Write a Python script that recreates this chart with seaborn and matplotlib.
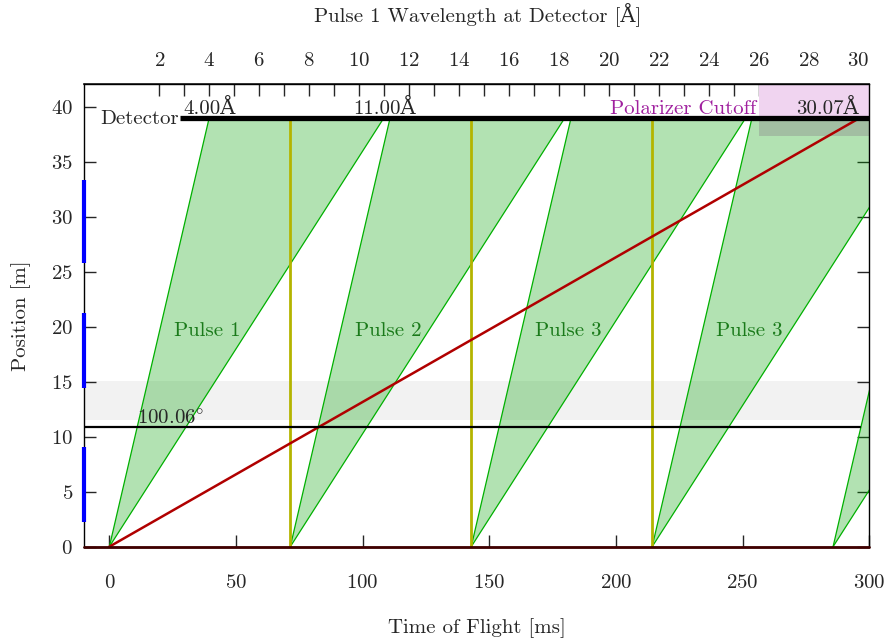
import matplotlib.pyplot as plt
import seaborn as sns
import numpy as np
import pandas as pd

# values
detector_pos = 39.0                                   # m
pulse_starts = [0.0, 71.43, 142.86, 214.29, 285.71]   # ms
pulse_names = ["Pulse 1", "Pulse 2", "Pulse 3", "Pulse 3"]
fast_wl = 4.00        # Angstrom
slow_wl = 11.00
max_wl = 30.07
cutoff_wl = 26.0
chopper_pos = 10.9    # m
chopper_label = r"100.06$^{\circ}$"
band_lo, band_hi = 11.5, 15.1
blue_segments = [(2.2, 9.05), (14.4, 21.2), (25.8, 33.3)]
time_ticks = [0, 50, 100, 150, 200, 250, 300]
pos_ticks = [0, 5, 10, 15, 20, 25, 30, 35, 40]
wl_major = list(range(2, 31, 2))
wl_minor = list(range(3, 30, 2))

H_OVER_M = 3.956  # Angstrom * m / ms


def wl_to_t(wl):
    return np.asarray(wl) * detector_pos / H_OVER_M


def t_to_wl(t):
    return np.asarray(t) * H_OVER_M / detector_pos


sns.set_theme(style="ticks")
plt.rcParams['font.family'] = ['cmr10', 'DejaVu Serif']
plt.rcParams['mathtext.fontset'] = 'cm'
plt.rcParams['axes.formatter.use_mathtext'] = True
plt.rcParams['font.size'] = 15
plt.rcParams['xtick.labelsize'] = 15
plt.rcParams['ytick.labelsize'] = 15
plt.rcParams['axes.labelsize'] = 15

fig = plt.figure(figsize=(8.9, 6.44), dpi=100)
ax = fig.add_axes([0.0944, 0.1511, 0.8823, 0.7185])

xmin, xmax = -10, 300
ymax = 42.06

# grey band
ax.axhspan(band_lo, band_hi, color="#f2f2f2", zorder=0.5, lw=0)

# pulses
t_fast = wl_to_t(fast_wl)
t_slow = wl_to_t(slow_wl)
for t0 in pulse_starts:
    xs = [t0, t0 + t_fast, t0 + t_slow]
    ys = [0, detector_pos, detector_pos]
    ax.fill(xs, ys, color="#00a000", alpha=0.3, lw=0, zorder=1)
    edges = pd.DataFrame({"t": [t0, t0 + t_fast], "y": [0, detector_pos]})
    sns.lineplot(data=edges, x="t", y="y", ax=ax, color="#00b000", lw=0.9, zorder=2)
    edges = pd.DataFrame({"t": [t0, t0 + t_slow], "y": [0, detector_pos]})
    sns.lineplot(data=edges, x="t", y="y", ax=ax, color="#00b000", lw=0.9, zorder=2)

for t0, name in zip(pulse_starts, pulse_names):
    ax.text(t0 + 38.5, 19.6, name, color="#1a7a1a", ha="center", va="center", zorder=6)

# frame overlap lines
ax.vlines(pulse_starts[1:4], 0, detector_pos, color="#b4b400", lw=2, zorder=2.5)

# slowest neutron
slow = pd.DataFrame({"t": [0, wl_to_t(max_wl)], "y": [0, detector_pos]})
sns.lineplot(data=slow, x="t", y="y", ax=ax, color="#b00000", lw=1.8, zorder=3)

# chopper
ax.plot([xmin, wl_to_t(max_wl)], [chopper_pos, chopper_pos], color="black", lw=1.6, zorder=3)
ax.text(11, chopper_pos + 0.2, chopper_label, ha="left", va="baseline", zorder=6)

# polarizer cutoff
t_cut = wl_to_t(cutoff_wl)
ax.fill_between([t_cut, xmax], detector_pos, ymax, color="#f0d4f0", lw=0, zorder=0.8)
ax.fill_between([t_cut, xmax], 37.35, detector_pos, color="#8a8a8a", alpha=0.4, lw=0, zorder=1.5)
ax.text(t_cut - 0.8, detector_pos + 0.35, "Polarizer Cutoff", color="#a0209f",
        ha="right", va="baseline", zorder=6)

# detector
ax.plot([27.9, xmax], [detector_pos, detector_pos], color="black", lw=3.8, zorder=4,
        solid_capstyle="butt")
ax.text(27.4, detector_pos - 0.1, "Detector", ha="right", va="center", zorder=6)
ax.text(t_fast, detector_pos + 0.35, f"{fast_wl:.2f}Å", ha="center", va="baseline", zorder=6)
ax.text(t_slow, detector_pos + 0.35, f"{slow_wl:.2f}Å", ha="center", va="baseline", zorder=6)
ax.text(wl_to_t(max_wl) - 0.5, detector_pos + 0.35, f"{max_wl:.2f}Å", ha="right",
        va="baseline", zorder=6)

# bottom line and blue segments on left axis
ax.plot([xmin, xmax], [0, 0], color="#400000", lw=2, zorder=4, clip_on=False)
for lo, hi in blue_segments:
    ax.plot([xmin, xmin], [lo, hi], color="#0000ff", lw=3, zorder=5, clip_on=False,
            solid_capstyle="butt")

ax.set_xlim(xmin, xmax)
ax.set_ylim(0, ymax)
ax.set_xticks(time_ticks)
ax.set_yticks(pos_ticks)
ax.tick_params(axis="x", direction="in", length=8.5, width=1, top=False, pad=20)
ax.tick_params(axis="y", direction="in", length=8.5, width=1, right=True, pad=8)
for s in ax.spines.values():
    s.set_linewidth(1)
    s.set_color("black")

ax.set_xlabel("Time of Flight [ms]")
ax.xaxis.set_label_coords(0.5, -0.155)
ax.set_ylabel("Position [m]")
ax.yaxis.set_label_coords(-0.068, 0.5)

secax = ax.secondary_xaxis("top", functions=(t_to_wl, wl_to_t))
secax.set_xticks(wl_major)
secax.set_xticks(wl_minor, minor=True)
secax.tick_params(which="both", direction="in", length=8.5, width=1, pad=10)
fig.text(0.537, 1 - 14 / 644, "Pulse 1 Wavelength at Detector [Å]", ha="center", va="center",
         fontsize=15)

plt.savefig("out.png", dpi=100)
